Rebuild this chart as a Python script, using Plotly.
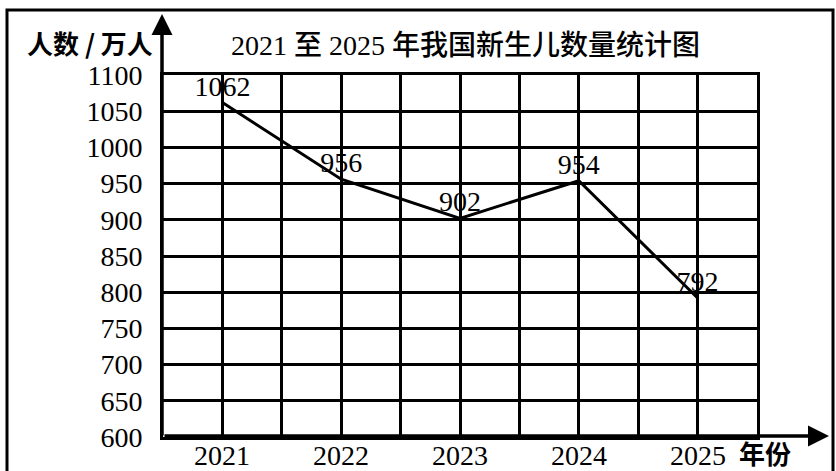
import plotly.graph_objects as go

years = [2021, 2022, 2023, 2024, 2025]
births = [1062, 956, 902, 954, 792]
year_labels = ["2021", "2022", "2023", "2024", "2025"]
y_ticks = [600, 650, 700, 750, 800, 850, 900, 950, 1000, 1050, 1100]
title_text = "2021 至 2025 年我国新生儿数量统计图"
y_title = "人数 / 万人"
x_title = "年份"

SERIF = "Liberation Serif, Noto Sans CJK SC"
CJK = "Noto Sans CJK SC"

W, H = 836, 471
L, R, T, B = 163, 79, 75, 34
PW, PH = W - L - R, H - T - B

def px(xp):
    return (xp - L) / PW

def py(yp):
    return (H - B - yp) / PH

fig = go.Figure()
fig.add_trace(go.Scatter(
    x=years, y=births, mode="lines+text",
    text=[str(v) for v in births], textposition="top center",
    textfont=dict(family=SERIF, size=28, color="black"),
    line=dict(color="black", width=3),
    cliponaxis=False, hoverinfo="skip", showlegend=False,
))

fig.update_layout(
    width=W, height=H,
    margin=dict(l=L, r=R, t=T, b=B, pad=0),
    paper_bgcolor="white", plot_bgcolor="white",
    xaxis=dict(
        range=[2020.5, 2025.5], tickvals=years,
        showgrid=True, gridcolor="black", gridwidth=3,
        minor=dict(tickmode="linear", tick0=2020.5, dtick=0.5, showgrid=True,
                   gridcolor="black", gridwidth=3),
        showline=True, linecolor="black", linewidth=3, mirror=True,
        zeroline=False, ticks="", showticklabels=False, automargin=False,
        fixedrange=True,
    ),
    yaxis=dict(
        range=[600, 1100], tickvals=y_ticks,
        showgrid=True, gridcolor="black", gridwidth=3,
        showline=True, linecolor="black", linewidth=3, mirror=True,
        zeroline=False, ticks="", ticklabelstandoff=12, automargin=False,
        tickfont=dict(family=SERIF, size=28, color="black"),
        fixedrange=True,
    ),
    font=dict(family=SERIF, color="black"),
)

# x tick labels (placed on the x axis scale)
for yr, lab in zip(years, year_labels):
    fig.add_annotation(xref="x", yref="paper", x=yr, y=py(455), text=lab,
                       showarrow=False, xanchor="center", yanchor="middle",
                       font=dict(family=SERIF, size=28, color="black"))

# outer frame
fig.add_shape(type="rect", xref="paper", yref="paper",
              x0=px(7), x1=px(833), y0=py(490), y1=py(10),
              line=dict(color="black", width=3), layer="below")

# axis arrows
fig.add_annotation(xref="paper", yref="paper", x=px(162), y=py(14),
                   ax=0, ay=(H - B) - 14, axref="pixel", ayref="pixel",
                   showarrow=True, arrowhead=2, arrowsize=1.2, arrowwidth=3.5,
                   arrowcolor="black", text="")
fig.add_annotation(xref="paper", yref="paper", x=px(829), y=py(436),
                   ax=-(829 - L), ay=0, axref="pixel", ayref="pixel",
                   showarrow=True, arrowhead=2, arrowsize=1.2, arrowwidth=3.5,
                   arrowcolor="black", text="")

# title
fig.add_annotation(xref="paper", yref="paper", x=px(465), y=py(45),
                   text=title_text, showarrow=False,
                   font=dict(family=SERIF, size=28, color="black", weight=500),
                   xanchor="center", yanchor="middle")
# y-axis title
fig.add_annotation(xref="paper", yref="paper", x=px(155), y=py(42),
                   text=y_title, showarrow=False,
                   font=dict(family=CJK, size=26, color="black", weight="bold"),
                   xanchor="right", yanchor="middle")
# x-axis title
fig.add_annotation(xref="paper", yref="paper", x=px(737), y=py(453),
                   text=x_title, showarrow=False,
                   font=dict(family=CJK, size=26, color="black", weight="bold"),
                   xanchor="left", yanchor="middle")

fig.write_html("out.html")
